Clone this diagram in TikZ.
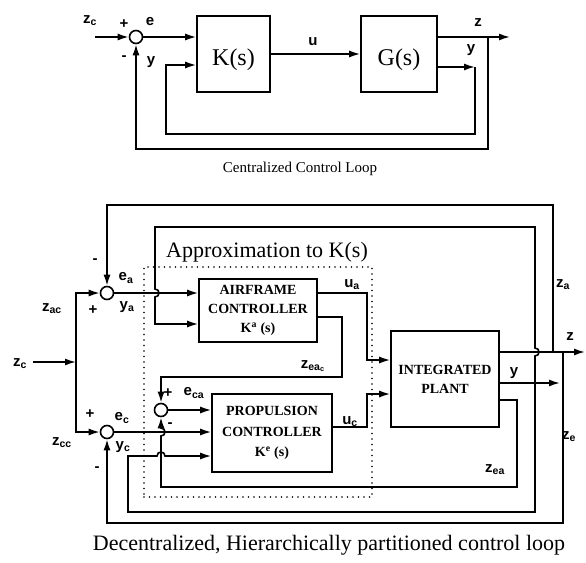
\documentclass[tikz,border=0pt]{standalone}
\usepackage{fontspec}
\setmainfont{Liberation Serif}
\setsansfont{Liberation Sans}
\usetikzlibrary{arrows.meta}

\tikzset{
  wire/.style={line width=1.6pt},
  sig/.style={wire, -{Latex[length=11pt,width=7pt]}},
  blk/.style={draw, line width=1.6pt, inner sep=0pt},
  sumj/.style={draw, circle, line width=1.6pt, minimum size=13pt, inner sep=0pt},
  lbl/.style={font=\sffamily\bfseries\fontsize{15}{15}\selectfont, inner sep=0pt},
  ctrl/.style={blk, font=\bfseries\fontsize{14}{19}\selectfont, align=center},
  dotbox/.style={draw, line width=1.8pt, dash pattern=on 0pt off 5.5pt, line cap=round},
  hop/.style={out=0, in=0, looseness=1.7},
  hopup/.style={out=90, in=90, looseness=1.7},
}

\begin{document}
\begin{tikzpicture}[x=1pt, y=1pt]
  \useasboundingbox (0,0) rectangle (586,-562);

  % centralized loop
  \node[sumj] (s0) at (136,-37) {};
  \node[blk, minimum width=73pt, minimum height=76pt] (K) at (233.5,-54) {};
  \node[blk, minimum width=76pt, minimum height=76pt] (G) at (399,-54) {};
  \node[font=\fontsize{24}{24}\selectfont] (Kt) at (233.5,-60) {K(s)};
  \node[font=\fontsize{24}{24}\selectfont] (Gt) at (399,-60) {G(s)};
  \coordinate (zc0) at (95,-37);
  \coordinate (zb) at (488,-37);
  \coordinate (zend) at (510,-37);
  \coordinate (ycorner) at (475,-67);
  \coordinate (yfb) at (166,-134);
  \coordinate (zfb) at (136,-149);

  \draw[sig] (zc0) -- (s0);
  \draw[sig] (s0) -- (s0 -| K.west);
  \draw[sig] (K) -- (G);
  \draw[sig] (G.east |- s0) -- (zend);
  \draw[sig] (G.east |- ycorner) -- (ycorner);
  \draw[sig] (ycorner) |- (yfb) |- ([yshift=-11pt]K.west);
  \draw[sig] (zb) |- (zfb) -- (s0);

  \node[lbl] (lzc) at (90,-21) {z\textsubscript{c}};
  \node[lbl] (lp0) at (124,-24) {+};
  \node[lbl] (lm0) at (124,-58) {-};
  \node[lbl] (le) at (150,-22) {e};
  \node[lbl] (ly0) at (151,-62) {y};
  \node[lbl] (lu) at (313,-42) {u};
  \node[lbl] (lz) at (478,-23) {z};
  \node[lbl] (ly1) at (471,-50) {y};
  \node[font=\fontsize{15}{15}\selectfont] (cap1) at (300,-169) {Centralized Control Loop};

  % decentralized loop
  \node[dotbox, minimum width=228pt, minimum height=230pt] (approx) at (258,-382) {};
  \node[font=\fontsize{22}{22}\selectfont] (lapprox) at (267,-252) {Approximation to K(s)};

  \node[sumj] (ea) at (107,-293) {};
  \node[sumj] (ec) at (107,-432) {};
  \node[sumj] (eca) at (161,-410) {};
  \node[ctrl, minimum width=118pt, minimum height=63pt] (AF) at (258,-310.5)
    {AIRFRAME\\CONTROLLER\\K\textsuperscript{a} (s)};
  \node[ctrl, minimum width=120pt, minimum height=78pt, font=\bfseries\fontsize{14}{20.5}\selectfont] (PR) at (272,-433)
    {PROPULSION\\CONTROLLER\\K\textsuperscript{e} (s)};
  \node[ctrl, minimum width=108pt, minimum height=96pt] (PL) at (445,-379)
    {INTEGRATED\\PLANT};

  \coordinate (zcin) at (33,-362);
  \coordinate (zcj) at (76,-362);
  \coordinate (zend2) at (585,-352);
  \coordinate (zaj) at (553,-352);
  \coordinate (zej) at (563,-352);
  \coordinate (zatop) at (107,-205);
  \coordinate (zebot) at (107,-523);
  \coordinate (yj) at (535,-383);
  \coordinate (yend2) at (560,-383);
  \coordinate (ya1) at (155,-227);
  \coordinate (yc1) at (128,-512);
  \coordinate (ua1) at (367,-360);
  \coordinate (uc1) at (367,-394);
  \coordinate (zc1) at (342,-377);
  \coordinate (zea1) at (517,-487);
  \coordinate (zea2) at (161,-487);

  % commands in
  \draw[sig] (zcin) -- (zcj);
  \draw[sig] (zcj) |- (ea);
  \draw[sig] (zcj) |- (ec);
  % plant outputs
  \draw[sig] ([yshift=27pt]PL.east) -- (zend2);
  \draw[sig] ([yshift=-4pt]PL.east) -- (yend2);
  \draw[sig] (zaj) |- (zatop) -- (ea);
  \draw[sig] (zej) |- (zebot) -- (ec);
  \draw[sig] (yj) -- ++(0,27) to[hop] ++(0,8) |- (ya1) -- ++(0,-62) to[hop] ++(0,-8)
    |- ([yshift=-13.5pt]AF.west);
  \draw[sig] (yj) |- (yc1) -- ++(0,56) -- ++(29,0) to[hopup] ++(8,0)
    -- ([yshift=-23pt]PR.west);
  \draw[sig] ([yshift=-21pt]PL.east) -| (zea1) -- (zea2) -- ++(0,51) to[hop] ++(0,8) -- (eca);
  % errors to controllers
  \draw[sig] (ea) -- (ea -| AF.west);
  \draw[sig] (ec) -- (ec -| PR.west);
  \draw[sig] (eca) -- (eca -| PR.west);
  % controller outputs
  \draw[sig] ([yshift=17.5pt]AF.east) -| (ua1) -- ([yshift=19pt]PL.west);
  \draw[sig] ([yshift=-6.5pt]AF.east) -| (zc1) -| (eca);
  \draw[sig] ([yshift=6pt]PR.east) -| (uc1) -- ([yshift=-15pt]PL.west);

  \node[lbl] (lma) at (95,-261) {-};
  \node[lbl] (lea) at (126,-278) {e\textsubscript{a}};
  \node[lbl] (lzac) at (52,-309) {z\textsubscript{ac}};
  \node[lbl] (lpa) at (93,-310) {+};
  \node[lbl] (lya) at (127,-307) {y\textsubscript{a}};
  \node[lbl] (lzc2) at (20,-364) {z\textsubscript{c}};
  \node[lbl] (lua) at (352,-285) {u\textsubscript{a}};
  \node[lbl] (lzeac) at (313,-366) {z\textsubscript{ea\textsubscript{c}}};
  \node[lbl] (lpca) at (168,-393) {+};
  \node[lbl] (leca) at (194,-393) {e\textsubscript{ca}};
  \node[lbl] (lpc) at (90,-414) {+};
  \node[lbl] (lec) at (122,-418) {e\textsubscript{c}};
  \node[lbl] (lzcc) at (62,-443) {z\textsubscript{cc}};
  \node[lbl] (lyc) at (123,-447) {y\textsubscript{c}};
  \node[lbl] (lmc) at (97,-469) {-};
  \node[lbl] (lmca) at (170,-425) {-};
  \node[lbl] (luc) at (350,-422) {u\textsubscript{c}};
  \node[lbl] (lyp) at (514,-373) {y};
  \node[lbl] (lzp) at (570,-337) {z};
  \node[lbl] (lza) at (563,-285) {z\textsubscript{a}};
  \node[lbl] (lze) at (569,-437) {z\textsubscript{e}};
  \node[lbl] (lzea) at (495,-470) {z\textsubscript{ea}};
  \node[font=\fontsize{22}{22}\selectfont] (cap2) at (329,-545)
    {Decentralized, Hierarchically partitioned control loop};
\end{tikzpicture}
\end{document}
